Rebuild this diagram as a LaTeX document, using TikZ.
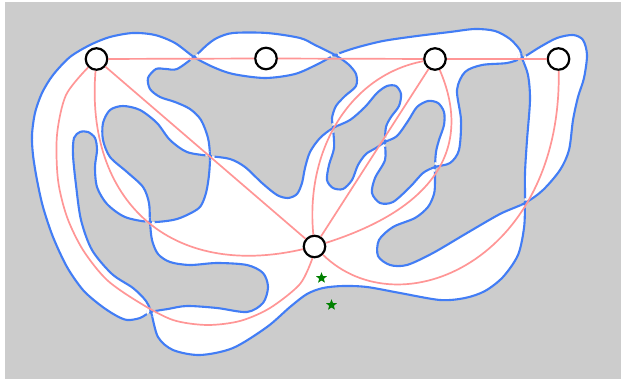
\documentclass[tikz,border=0pt]{standalone}
\usetikzlibrary{shapes.geometric}
\definecolor{rimblue}{RGB}{66,125,245}
\definecolor{edgepink}{RGB}{255,150,150}
\definecolor{backgray}{RGB}{204,204,204}
\definecolor{stargreen}{RGB}{0,128,0}

\begin{document}
\begin{tikzpicture}[x=1pt, y=-1pt,
	rim/.style={draw=rimblue, line width=2.1pt},
	band/.style={draw=edgepink, line width=1.7pt},
	vertex/.style={circle, draw=black, line width=2.2pt, fill=white, minimum size=21.5pt, inner sep=0pt},
	marker/.style={star, star points=5, star point ratio=2.3, fill=stargreen, minimum size=11.5pt, inner sep=0pt}]
	\useasboundingbox (0,0) rectangle (621,379);
	\fill[backgray] (5,2) rectangle (621,379);
	% boundary of the ribbon surface (one closed curve)
	\path[save path=\rimpath] plot[smooth cycle] coordinates {
		(151,312) (140,318) (127,320) (115,315) (100,305) (83,290) (67,267) (53,237) (43,207) (37,180) (33,155) (32,135)
		(35,113) (42,93) (53,75) (70,57) (90,45) (110,37) (133,33) (155,35) (175,43) (194,57) (213,67) (233,74) (265,78)
		(295,74) (318,64)
		(335,55) (355,48) (383,41) (417,36) (450,32) (475,29) (495,31) (510,39) (520,50) (522,58) (528,75) (530,100)
		(527,140) (525,173)
		(525,203) (524,228) (518,255) (503,277) (485,291) (465,298) (440,300) (400,293) (367,287) (343,286) (323,288)
		(307,294) (290,307) (267,327) (233,348) (200,355) (173,350) (158,337) (151,312) (146,301) (133,288) (112,274)
		(92,250) (81,220) (76,185) (73,155) (74,138) (80,132) (88,132) (95,138) (97,150) (95,167) (97,187) (107,204) (125,217)
		(150,222) (173,220) (187,215) (200,207) (206,193) (209,175) (210,156) (208,138) (201,120) (190,109) (175,102)
		(160,97) (150,89) (148,78) (156,69) (166,69) (177,69)
		(194,57) (207,45) (217,38) (233,33) (267,33) (300,38) (315,45) (335,55) (348,64) (356,74) (356,86) (345,96)
		(336,106) (332,118)
		(333,128) (334,148) (329,165) (327,180) (333,188) (343,189) (352,180) (358,165) (366,154) (376,148) (385,142)
		(397,136) (408,121) (417,107) (428,101) (438,103) (444,112) (444,125) (439,140) (436,152)
		(435,167) (435,182) (434,194) (428,207) (415,218) (393,227) (379,240) (378,256) (390,265) (407,265) (433,253)
		(467,233) (500,214) (525,203) (543,190) (560,170) (569,150) (573,120) (578,97) (584,78) (587,55) (583,40)
		(573,35) (557,38) (540,47)
		(522,58) (507,63) (482,65) (465,72) (457,90) (461,120) (459,150) (450,163) (435,167) (423,173) (410,187)
		(393,202) (380,203) (372,193) (375,178) (385,160)
		(385,142) (386,127) (391,117) (399,106) (401,94) (396,86) (387,86) (377,93) (365,107) (350,120) (333,128)
		(320,138) (310,152) (305,168) (302,183) (297,194) (288,198) (277,195) (262,183) (245,167) (230,159)
		(210,156) (187,152) (170,140) (157,123) (140,110) (123,106) (110,110) (103,123) (103,140) (110,157) (127,172)
		(143,187) (149,203) (150,222) (152,240) (158,254) (170,262) (190,265) (217,263) (247,265) (263,273) (268,287)
		(263,303) (247,312) (217,308) (187,306) (168,309)};
	\fill[white, even odd rule, use path=\rimpath];
	\draw[rim, use path=\rimpath];
	% half twists: break the lower strand
	\foreach \x/\y/\a in {194/57/32.3, 335/55/29.9, 522/58/72.3, 210/156/91.5, 150/222/85.4,
		151/312/71.6, 333/128/-31, 385/142/-29.7, 435/167/-20.3, 525/203/-29.2} {
		\begin{scope}
			\clip (\x,\y) circle (4.8);
			\fill[backgray] (\x,\y) circle (6);
			\fill[white, even odd rule, use path=\rimpath];
			\clip (\x,\y) ++(\a:7) ++(\a+90:1.9) -- ++(\a+180:14) -- ++(\a-90:3.8) -- ++(\a:14) -- cycle;
			\draw[rim, use path=\rimpath];
		\end{scope}
	}
	% vertices
	\node[vertex] (va) at (96.5,59) {};
	\node[vertex] (vb) at (266,58.5) {};
	\node[vertex] (vc) at (435,59) {};
	\node[vertex] (vd) at (558.5,59) {};
	\node[vertex] (ve) at (314.5,246.5) {};
	% edges
	\draw[band] (va) -- (vb);
	\draw[band] (vb) -- (vc);
	\draw[band] (vc) -- (vd);
	\draw[band] (va) -- (ve);
	\draw[band] (vc) -- (ve);
	\draw[band] (va) .. controls (85,200) and (170,280) .. (ve);
	\draw[band] plot[smooth] coordinates {(va.225) (66,95) (57,135) (58,180) (67,217) (83,250) (107,280) (140,303)
		(173,320) (207,325) (240,321) (270,308) (300,284) (ve.-100)};
	\draw[band] (vc) .. controls (350,75) and (305,150) .. (ve);
	\draw[band] (vc) .. controls (470,140) and (445,205) .. (ve);
	\draw[band] (vd) .. controls (562,260) and (400,330) .. (ve);
	% stars
	\node[marker] (s1) at (321.5,278) {};
	\node[marker] (s2) at (331.5,305) {};
\end{tikzpicture}
\end{document}
